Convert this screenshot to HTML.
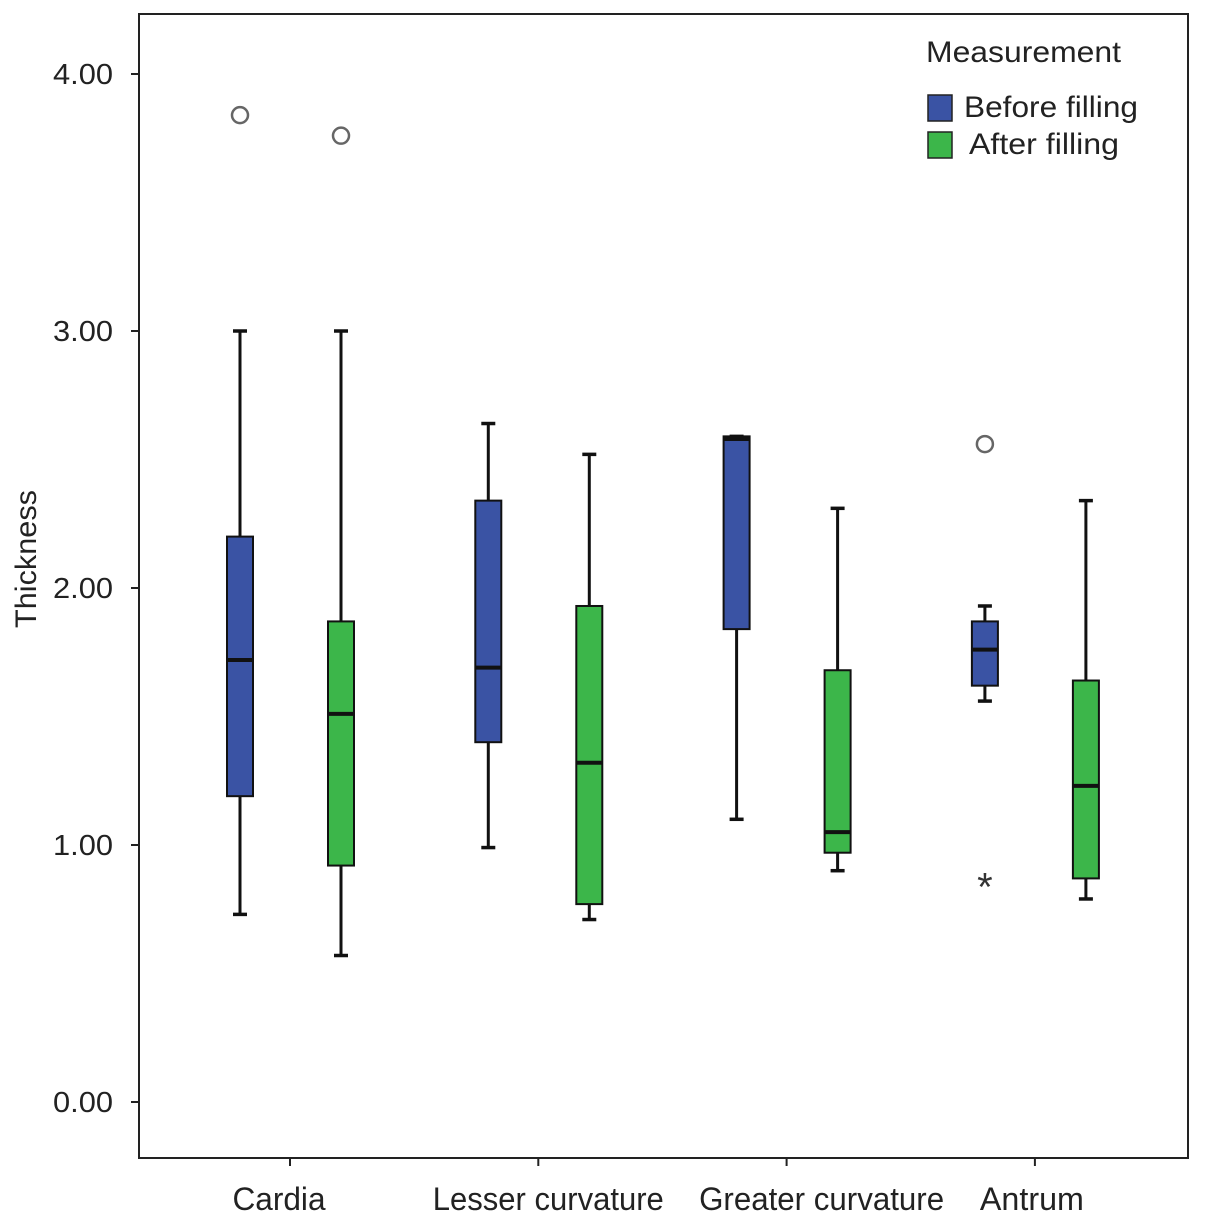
<!DOCTYPE html>
<html><head><meta charset="utf-8"><style>
body{margin:0;background:#fff}
svg{display:block;font-family:"Liberation Sans",Arial,sans-serif}
</style></head><body>
<svg id="chart" width="1205" height="1224">
<rect x="139" y="14" width="1049" height="1144" fill="none" stroke="#222" stroke-width="2"/>
<text x="36" y="559" font-size="30" text-anchor="middle" textLength="138" lengthAdjust="spacingAndGlyphs" transform="rotate(-90 36 559)" fill="#222">Thickness</text>
<g id="ticks"></g><g id="marks"></g>
<g>
<text x="926" y="62" font-size="30" fill="#222" textLength="195" lengthAdjust="spacingAndGlyphs">Measurement</text>
<rect x="928" y="95" width="24" height="26" fill="#3a53a4" stroke="#222" stroke-width="1.5"/>
<text x="964" y="117" font-size="30" fill="#222" textLength="174" lengthAdjust="spacingAndGlyphs">Before filling</text>
<rect x="928" y="132" width="24" height="26" fill="#3cb64a" stroke="#222" stroke-width="1.5"/>
<text x="969" y="154" font-size="30" fill="#222" textLength="150" lengthAdjust="spacingAndGlyphs">After filling</text>
</g>
</svg>
<script>
const categories=["Cardia","Lesser curvature","Greater curvature","Antrum"];
const catLabelWidths=[93,231,245,104];
const catLabelShift=[-11,10,35,-3];
const yTicks=[0,1,2,3,4];
const beforeLow=[0.73,0.99,1.10,1.56];
const beforeQ1=[1.19,1.40,1.84,1.62];
const beforeMed=[1.72,1.69,2.58,1.76];
const beforeQ3=[2.20,2.34,2.59,1.87];
const beforeHigh=[3.00,2.64,2.59,1.93];
const afterLow=[0.57,0.71,0.90,0.79];
const afterQ1=[0.92,0.77,0.97,0.87];
const afterMed=[1.51,1.32,1.05,1.23];
const afterQ3=[1.87,1.93,1.68,1.64];
const afterHigh=[3.00,2.52,2.31,2.34];
const outlierCircles=[[0,0,3.84],[0,1,3.76],[3,0,2.56]];
const outlierStars=[[3,0,0.85]];
const NS="http://www.w3.org/2000/svg";
const y=v=>1102-v*257;
const x=i=>290+i*248.3;
function mk(tag,at,parent){const e=document.createElementNS(NS,tag);for(const k in at)e.setAttribute(k,at[k]);parent.appendChild(e);return e;}
const T=document.getElementById('ticks'),M=document.getElementById('marks');
yTicks.forEach(v=>{
 const l=mk('line',{x1:131,x2:139,y1:y(v),y2:y(v),stroke:'#222','stroke-width':2},T);
 
 
 const t=mk('text',{x:113,y:y(v)+10,'font-size':29,'text-anchor':'end',fill:'#222',textLength:60,lengthAdjust:'spacingAndGlyphs'},T);t.textContent=v.toFixed(2);
 
 
});
categories.forEach((c,i)=>{
 const l=mk('line',{x1:x(i),x2:x(i),y1:1158,y2:1166,stroke:'#222','stroke-width':2},T);
 
 
 const t=mk('text',{x:x(i)+catLabelShift[i],y:1210,'font-size':32,'text-anchor':'middle',fill:'#222',textLength:catLabelWidths[i],lengthAdjust:'spacingAndGlyphs'},T);t.textContent=c;
 
 
});
function box(cx,lo,q1,md,q3,hi,col){
 const g=mk('g',{},M);
 
 
 mk('line',{x1:cx,x2:cx,y1:y(hi),y2:y(lo),stroke:'#111','stroke-width':3},g);
 mk('line',{x1:cx-7,x2:cx+7,y1:y(hi),y2:y(hi),stroke:'#111','stroke-width':3.5},g);
 mk('line',{x1:cx-7,x2:cx+7,y1:y(lo),y2:y(lo),stroke:'#111','stroke-width':3.5},g);
 mk('rect',{x:cx-13,y:y(q3),width:26,height:Math.max(1,y(q1)-y(q3)),fill:col.c,stroke:'#111','stroke-width':2},g);
 mk('line',{x1:cx-13,x2:cx+13,y1:y(md),y2:y(md),stroke:'#111','stroke-width':4},g);
}
categories.forEach((c,i)=>{
 box(x(i)-50,beforeLow[i],beforeQ1[i],beforeMed[i],beforeQ3[i],beforeHigh[i],{c:'#3a53a4',name:'before'});
 box(x(i)+51,afterLow[i],afterQ1[i],afterMed[i],afterQ3[i],afterHigh[i],{c:'#3cb64a',name:'after'});
});
outlierCircles.forEach(([ci,s,v])=>{
 const o=mk('circle',{cx:x(ci)-50+s*101,cy:y(v),r:8,fill:'none',stroke:'#666','stroke-width':2.5},M);
 
 
});
outlierStars.forEach(([ci,s,v])=>{
 const t=mk('text',{x:x(ci)-50+s*101,y:y(v)+17,'font-size':40,'text-anchor':'middle',fill:'#333'},M);t.textContent='*';
 
 
});
</script>
</body></html>
